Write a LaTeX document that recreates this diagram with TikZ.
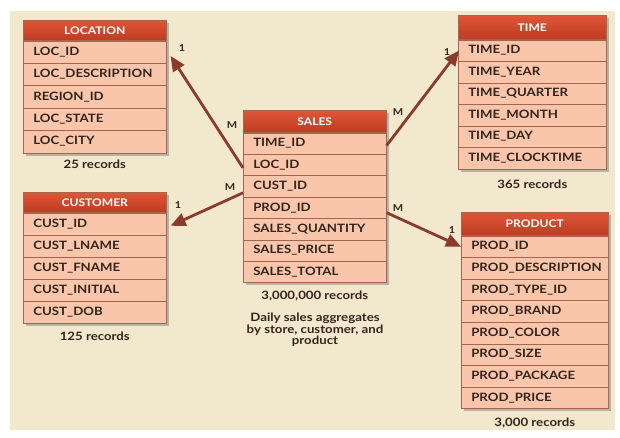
\documentclass[tikz,border=0pt]{standalone}
\usepackage{fontspec}
\setmainfont[FakeStretch=1.15]{Lato}
\usetikzlibrary{arrows.meta,shadows,backgrounds,fit,calc}
\definecolor{bgbeige}{HTML}{F1E8CE}
\definecolor{hdrtop}{HTML}{DF5638}
\definecolor{hdrbot}{HTML}{BE3C22}
\definecolor{rowfill}{HTML}{F9C6AC}
\definecolor{rowline}{HTML}{A5654F}
\definecolor{txt}{HTML}{33241C}
\definecolor{conncol}{HTML}{8C3A2A}
\tikzset{
  hdr/.style={anchor=north west, top color=hdrtop, bottom color=hdrbot, draw=rowline,
    line width=0.5pt, text=white, font=\bfseries\fontsize{10.5}{11}\selectfont, inner sep=0pt},
  rowbox/.style={anchor=north west, fill=rowfill, draw=rowline, line width=0.6pt, text=txt,
    font=\bfseries\fontsize{11.5}{12}\selectfont, inner xsep=10pt, inner ysep=0pt, align=left},
  rec/.style={anchor=base, text=txt, font=\bfseries\fontsize{11.5}{12}\selectfont},
  mult/.style={text=txt, font=\bfseries\fontsize{9.5}{10}\selectfont, inner sep=0pt},
  note/.style={text=txt, font=\bfseries\fontsize{11.5}{11.5}\selectfont, align=center},
  conn/.style={draw=conncol, line width=2.8pt, -{Triangle[length=15pt,width=13pt]}},
  tshadow/.style={inner sep=0pt, fill=rowfill, drop shadow={shadow xshift=2.5pt, shadow yshift=-2.5pt, opacity=0.5}},
}
% #1 name, #2 x, #3 y, #4 width, #5 header height, #6 row height, #7 title, #8 rows, #9 row count
\newcommand{\ertable}[9]{%
  \node[hdr, minimum width=#4pt, minimum height=#5pt] (#1) at (#2,#3) {#7};
  \pgfmathsetlengthmacro{\ertw}{#4-20}%
  \foreach \r [count=\i] in {#8} {
    \node[rowbox, text width=\ertw, minimum height=#6pt] (#1-\i)
      at ([yshift={-(\i-1)*#6}]#1.south west) {\r};
  }
  \begin{pgfonlayer}{background}
    \node[tshadow, fit=(#1)(#1-#9)] (#1-shadow) {};
  \end{pgfonlayer}
}
\begin{document}
\begin{tikzpicture}[x=1pt,y=-1pt]
\begin{pgfonlayer}{background}
  \fill[white] (0,0) rectangle (620,437);
  \fill[bgbeige] (10,11) rectangle (615,430);
\end{pgfonlayer}
\path[use as bounding box] (0,0) rectangle (620,437);

\ertable{loc}{23}{20}{143}{20}{22.4}{LOCATION}{LOC\_ID,LOC\_DESCRIPTION,REGION\_ID,LOC\_STATE,LOC\_CITY}{5}
\ertable{sales}{243}{110}{143}{22}{21.4}{SALES}{TIME\_ID,LOC\_ID,CUST\_ID,PROD\_ID,SALES\_QUANTITY,SALES\_PRICE,SALES\_TOTAL}{7}
\ertable{time}{458}{15}{148}{24}{21.5}{TIME}{TIME\_ID,TIME\_YEAR,TIME\_QUARTER,TIME\_MONTH,TIME\_DAY,TIME\_CLOCKTIME}{6}
\ertable{cust}{23}{192}{143}{20}{22}{CUSTOMER}{CUST\_ID,CUST\_LNAME,CUST\_FNAME,CUST\_INITIAL,CUST\_DOB}{5}
\ertable{prod}{461}{212}{147}{23}{21.6}{PRODUCT}{PROD\_ID,PROD\_DESCRIPTION,PROD\_TYPE\_ID,PROD\_BRAND,PROD\_COLOR,PROD\_SIZE,PROD\_PACKAGE,PROD\_PRICE}{8}

\node[rec] (loc-rec) at ([yshift=-15pt]loc-5.south) {25 records};
\node[rec] (sales-rec) at ([yshift=-17pt]sales-7.south) {3,000,000 records};
\node[rec] (time-rec) at ([yshift=-19pt]time-6.south) {365 records};
\node[rec] (cust-rec) at ([yshift=-17pt]cust-5.south) {125 records};
\node[rec] (prod-rec) at ([yshift=-18pt]prod-8.south) {3,000 records};

\node[note] (note) at (315,330) {Daily sales aggregates\\by store, customer, and\\product};

\draw[conn] ([yshift=-3pt]sales-2.west) -- ([shift={(4pt,-4pt)}]loc-1.east);
\draw[conn] ([yshift=-6.5pt]sales-3.west) -- ([shift={(4pt,-2pt)}]cust-1.east);
\draw[conn] ([yshift=-2pt]sales-1.east) -- ([xshift=1pt]time-1.west);
\draw[conn] ([yshift=-5pt]sales-4.east) -- (prod-1.west);

\node[mult] (m-loc) at (232,125) {M};
\node[mult] (o-loc) at (182,48) {1};
\node[mult] (m-cust) at (230,187) {M};
\node[mult] (o-cust) at (178,205) {1};
\node[mult] (m-time) at (398,112) {M};
\node[mult] (o-time) at (447,52) {1};
\node[mult] (m-prod) at (398,208) {M};
\node[mult] (o-prod) at (452,230) {1};
\end{tikzpicture}
\end{document}
